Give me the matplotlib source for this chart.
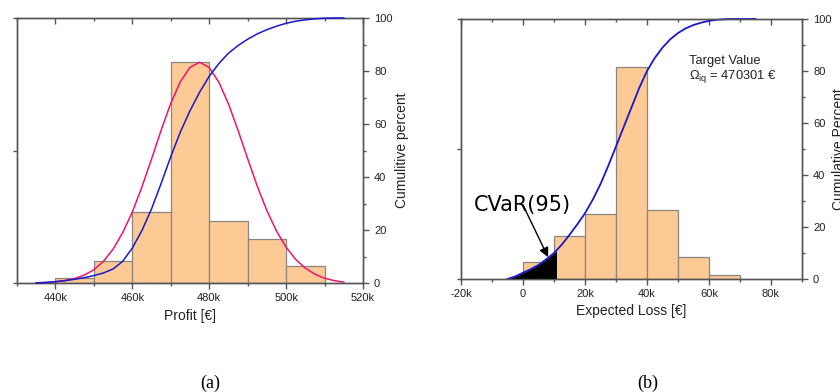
import matplotlib
matplotlib.use("Agg")
import matplotlib.pyplot as plt
from matplotlib.ticker import FixedLocator

plt.rcParams['font.family'] = ['Liberation Sans', 'DejaVu Sans']
plt.rcParams['mathtext.fontset'] = 'custom'
plt.rcParams['mathtext.rm'] = 'Liberation Sans'
plt.rcParams['mathtext.it'] = 'Liberation Sans:italic'
plt.rcParams['lines.solid_joinstyle'] = 'round'

# ---- panel (a): profit, values in k EUR / percent ----
bins_a = [440, 450, 460, 470, 480, 490, 500]
hist_a = [1.8, 8.4, 26.7, 83.3, 23.5, 16.7, 6.5]

curve_x_a = [435, 437.5, 440, 442.5, 445, 447.5, 450, 452.5, 455, 457.5, 460,
             462.5, 465, 467.5, 470, 472.5, 475, 477.5, 480, 482.5, 485, 487.5,
             490, 492.5, 495, 497.5, 500, 502.5, 505, 507.5, 510, 512.5, 515]
pdf_a = [0.1, 0.2, 0.5, 0.9, 1.7, 3.0, 5.0, 8.2, 12.8, 19.0, 26.8,
         36.3, 46.8, 57.7, 67.8, 76.0, 81.4, 83.3, 81.3, 75.8, 67.6, 57.6,
         46.9, 36.5, 27.3, 19.6, 13.5, 8.9, 5.6, 3.3, 1.8, 0.9, 0.3]
cdf_a = [0.0, 0.2, 0.5, 0.9, 1.4, 2.0, 2.8, 3.8, 5.3, 8.2, 13.2,
         19.8, 28.0, 37.6, 47.7, 57.0, 65.0, 72.0, 78.0, 82.8, 86.7, 89.6,
         92.0, 94.0, 95.6, 96.9, 98.0, 98.8, 99.3, 99.7, 99.9, 100.0, 100.0]

xmaj_a = [440, 460, 480, 500, 520]
xmaj_lab_a = ['440k', '460k', '480k', '500k', '520k']
xmin_a = [430, 450, 470, 490, 510]

# ---- panel (b): expected loss ----
bins_b = [0, 10, 20, 30, 40, 50, 60]
hist_b = [6.6, 16.7, 25.1, 81.7, 26.6, 8.4, 1.5]

curve_x_b = [-5, -2.5, 0, 2.5, 5, 7.5, 10, 12.5, 15, 17.5, 20, 22.5, 25, 27.5,
             30, 32.5, 35, 37.5, 40, 42.5, 45, 47.5, 50, 52.5, 55, 57.5, 60,
             62.5, 65, 67.5, 70, 72.5, 75]
cdf_b = [0.0, 1.0, 2.4, 3.8, 5.4, 7.6, 10.0, 13.2, 17.0, 21.0, 25.3, 30.5,
         36.5, 43.5, 51.0, 58.5, 66.0, 73.5, 80.0, 85.0, 89.0, 92.2, 94.6,
         96.4, 97.7, 98.6, 99.3, 99.7, 99.9, 100.0, 100.0, 100.0, 100.0]

cvar_x = [-5, -2.5, 0, 2.5, 5, 7.5, 10, 10.8]
cvar_y = [0.0, 1.0, 2.4, 3.8, 5.4, 7.6, 10.0, 10.8]

xmaj_b = [-20, 0, 20, 40, 60, 80]
xmaj_lab_b = ['-20k', '0', '20k', '40k', '60k', '80k']
xmin_b = [-10, 10, 30, 50, 70, 90]

ytick_right = [0, 20, 40, 60, 80, 100]
ytick_right_minor = [10, 30, 50, 70, 90]
ytick_left = [0, 50, 100]

bar_color = '#FDCA96'
bar_edge = '#8a8580'
red = '#F0146A'
blue = '#1818CC'
spine_c = '#555555'
text_c = '#222222'

fig = plt.figure(figsize=(8.4, 3.92), dpi=100)


def style(ax, ax2, xlim, xmaj, xlab, xmin):
    ax.set_xlim(*xlim)
    ax.set_ylim(0, 100)
    ax2.set_ylim(0, 100)
    for a in (ax, ax2):
        for s in a.spines.values():
            s.set_color(spine_c)
            s.set_linewidth(1.0)
    ax.xaxis.set_major_locator(FixedLocator(xmaj))
    ax.set_xticklabels(xlab)
    ax.xaxis.set_minor_locator(FixedLocator(xmin))
    ax.tick_params(axis='x', which='both', bottom=True, top=True,
                   color=spine_c, labelcolor=text_c, labelsize=8, pad=3)
    ax.tick_params(axis='x', which='major', length=4, width=1.0)
    ax.tick_params(axis='x', which='minor', length=2.5, width=1.0)
    # top ticks point inward
    for t in ax.xaxis.get_major_ticks() + ax.xaxis.get_minor_ticks():
        t.tick2line.set_marker(3)
    ax.set_yticks(ytick_left)
    ax.tick_params(axis='y', which='both', left=True, right=False,
                   labelleft=False, length=3, width=1.0, color=spine_c)
    ax2.set_yticks(ytick_right)
    ax2.yaxis.set_minor_locator(FixedLocator(ytick_right_minor))
    ax2.tick_params(axis='y', which='major', length=4, width=1.0,
                    color=spine_c, labelcolor=text_c, labelsize=8, pad=4)
    ax2.tick_params(axis='y', which='minor', length=2, width=1.0,
                    color=spine_c)


# panel (a)
ax = fig.add_axes([17 / 840, 1 - 283 / 392, 346 / 840, 265 / 392])
ax2 = ax.twinx()
ax.bar(bins_a, hist_a, width=10, align='edge', color=bar_color,
       edgecolor=bar_edge, linewidth=0.9, zorder=2)
ax.plot(curve_x_a, pdf_a, color=red, lw=1.1, zorder=3, clip_on=False)
ax2.plot(curve_x_a, cdf_a, color=blue, lw=1.1, zorder=3, clip_on=False)
style(ax, ax2, (430, 520), xmaj_a, xmaj_lab_a, xmin_a)
ax.set_xlabel('Profit [€]', fontsize=10, color=text_c)
ax.xaxis.set_label_coords(0.5, -0.098)
ax.text(1.112, 0.5, 'Cumulitive percent', transform=ax.transAxes,
        rotation=90, ha='center', va='center', fontsize=10, color=text_c)

# panel (b)
bx = fig.add_axes([461 / 840, 1 - 279 / 392, 341 / 840, 260 / 392])
bx2 = bx.twinx()
bx.bar(bins_b, hist_b, width=10, align='edge', color=bar_color,
       edgecolor=bar_edge, linewidth=0.9, zorder=2)
bx.fill_between(cvar_x, 0, cvar_y, color='black', lw=0, zorder=3)
bx.plot(curve_x_b, cdf_b, color=blue, lw=1.3, zorder=4, clip_on=False)
style(bx, bx2, (-20, 90), xmaj_b, xmaj_lab_b, xmin_b)
bx.set_xlabel('Expected Loss [€]', fontsize=10, color=text_c)
bx.xaxis.set_label_coords(0.5, -0.098)
bx.annotate('CVaR(95)', xy=(8.1, 8.4), xytext=(-15.7, 28.5),
            fontsize=15, family='DejaVu Sans', ha='left', va='center',
            arrowprops=dict(arrowstyle='-|>', color='black', lw=1.0,
                            mutation_scale=14, shrinkA=0, shrinkB=0,
                            patchA=None),
            zorder=6)
bx.text(53.5, 84, 'Target Value', fontsize=9.3, color=text_c,
        ha='left', va='center')
bx.text(53.5, 77.7, r'$\Omega_{\mathrm{iq}}$ = 470301 €', fontsize=9.3,
        color=text_c, ha='left', va='center')
# right axis title is cut off by the image edge in the original
fig.text(839 / 840, 0.5 * (1 - 19 / 392 + 1 - 279 / 392), 'Cumulative Percent',
         rotation=90, ha='center', va='center', fontsize=10, color=text_c)

# captions
fig.text(210 / 840, 1 - 383 / 392, '(a)', ha='center', va='center',
         fontsize=13, family='Liberation Serif')
fig.text(648 / 840, 1 - 383 / 392, '(b)', ha='center', va='center',
         fontsize=13, family='Liberation Serif')

fig.savefig('out.png', dpi=100, facecolor='white')
